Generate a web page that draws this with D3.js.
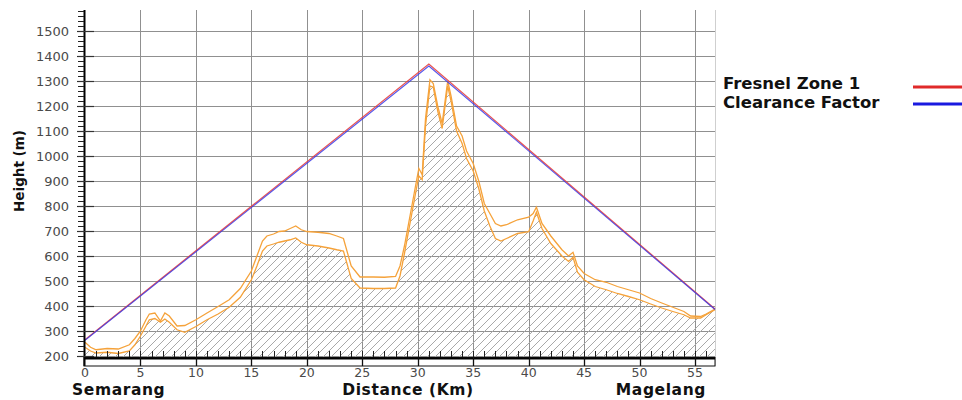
<!DOCTYPE html>
<html><head><meta charset="utf-8">
<script src="https://cdn.jsdelivr.net/npm/d3@7"></script>
<style>body{margin:0;background:#fff}svg{display:block}</style>
</head><body>
<svg id="c" width="962" height="400"></svg>
<script>
// ---- data ----
const distKm = [0,0.5,1,2,3,4,4.5,5,5.5,5.8,6.3,6.8,7.2,7.6,8.3,9,10,11,12,13,14,15,15.5,16,16.4,17,17.5,18,18.5,19,19.5,20,21,22,22.7,23.3,24,24.8,26,27,28,28.4,28.8,29.3,29.8,30.1,30.4,30.7,31.1,31.4,31.8,32.2,32.7,33.0,33.5,34,34.4,35,35.5,36,36.5,37,37.5,38,39,40,40.4,40.7,41.2,42,43,43.6,44,44.4,45,46,47,48,49,50,51,52,53,54,54.6,55.5,56,56.8];
const upperH = [255,235,225,230,228,245,270,300,345,368,372,340,372,360,320,322,345,372,398,425,470,540,600,660,680,688,698,700,710,720,705,698,695,690,680,670,560,516,516,515,518,560,640,760,880,950,925,1150,1305,1290,1200,1130,1300,1240,1120,1080,1020,970,900,810,770,730,720,725,745,755,770,795,730,680,625,600,615,560,530,505,495,478,465,452,430,412,395,378,360,358,368,388];
const lowerH = [235,220,212,215,210,220,245,280,320,345,350,335,348,335,305,295,318,345,368,395,435,505,560,620,640,648,655,660,665,672,655,645,640,632,625,620,510,472,470,470,472,520,610,730,850,920,905,1120,1280,1275,1180,1110,1280,1220,1100,1050,990,940,870,780,720,670,660,670,690,697,740,775,710,650,600,578,595,535,505,478,465,450,438,425,408,392,378,365,352,352,365,385];
const fresnelDist = [0,31,56.8];
const fresnelH = [265,1368,388];
const clearanceH = [263,1360,386];
const xTicks = [0,5,10,15,20,25,30,35,40,45,50,55];
const yTicks = [200,300,400,500,600,700,800,900,1000,1100,1200,1300,1400,1500];
const legendLabels = ["Fresnel Zone 1","Clearance Factor"];

// ---- scales ----
const svg = d3.select("#c");
const x = d3.scaleLinear().domain([0,56.8]).range([85,715]);
const y = d3.scaleLinear().domain([196,1584]).range([357,10]);
const X0 = x(0)-1, X1 = x(56.8), Y0 = y(196), Y1 = y(1584);

// hatch pattern
const defs = svg.append("defs");
const pat = defs.append("pattern").attr("id","hatch").attr("patternUnits","userSpaceOnUse")
  .attr("width",8).attr("height",8);
pat.append("path").attr("d","M-1,1 l2,-2 M0,8 l8,-8 M7,9 l2,-2").attr("stroke","#a9a9a9").attr("stroke-width",1);

// grid
const g = svg.append("g");
g.selectAll(".hg").data(yTicks).join("line")
  .attr("x1",X0).attr("x2",X1).attr("y1",d=>y(d)+0.5).attr("y2",d=>y(d)+0.5)
  .attr("stroke","#909090").attr("stroke-width",1);
g.selectAll(".vg").data(xTicks.slice(1)).join("line")
  .attr("x1",d=>Math.round(x(d))+0.5).attr("x2",d=>Math.round(x(d))+0.5).attr("y1",Y1).attr("y2",Y0)
  .attr("stroke","#909090").attr("stroke-width",1);
g.append("line").attr("x1",X1+0.5).attr("x2",X1+0.5).attr("y1",Y1).attr("y2",Y0+9)
  .attr("stroke","#cfcfcf");

// terrain
const pts = distKm.map((d,i)=>({d,u:upperH[i],l:lowerH[i]}));
svg.append("path").datum(pts)
  .attr("d",d3.area().x(p=>x(p.d)).y0(Y0).y1(p=>y(p.l)))
  .attr("fill","url(#hatch)");
svg.append("path").datum(pts)
  .attr("d",d3.line().x(p=>x(p.d)).y(p=>y(p.l)))
  .attr("fill","none").attr("stroke","#f5a23a").attr("stroke-width",1.3);
svg.append("path").datum(pts)
  .attr("d",d3.line().x(p=>x(p.d)).y(p=>y(p.u)))
  .attr("fill","none").attr("stroke","#f5a23a").attr("stroke-width",1.3);

// fresnel / clearance
const fl = d3.line().x(p=>x(p[0])).y(p=>y(p[1]));
svg.append("path").attr("d",fl(fresnelDist.map((d,i)=>[d,fresnelH[i]])))
  .attr("fill","none").attr("stroke","#e8413e").attr("stroke-width",1.3).attr("opacity",0.9);
svg.append("path").attr("d",fl(fresnelDist.map((d,i)=>[d,clearanceH[i]])))
  .attr("fill","none").attr("stroke","#3a3ae8").attr("stroke-width",1.1).attr("opacity",0.85);

// y axis
const ax = svg.append("g");
ax.append("line").attr("x1",X0+0.5).attr("x2",X0+0.5).attr("y1",Y1).attr("y2",Y0+9)
  .attr("stroke","#000").attr("stroke-width",2);
const minorY = d3.range(200,1584,20);
ax.selectAll(".my").data(minorY).join("line")
  .attr("x1",X0-6).attr("x2",X0).attr("y1",d=>y(d)+0.5).attr("y2",d=>y(d)+0.5)
  .attr("stroke","#222").attr("stroke-width",1);
ax.selectAll(".My").data(yTicks).join("line")
  .attr("x1",X0-7).attr("x2",X0+10).attr("y1",d=>y(d)+0.5).attr("y2",d=>y(d)+0.5)
  .attr("stroke","#333").attr("stroke-width",1.2);
ax.selectAll(".yl").data(yTicks).join("text")
  .attr("x",69).attr("y",d=>y(d)+4.5).attr("text-anchor","end")
  .attr("font-family","DejaVu Sans").attr("font-size",13).attr("fill","#4a4a4a")
  .text(d=>d);

// x axis band
const minorX = d3.range(1,57,1);
ax.selectAll(".mx").data(minorX).join("line")
  .attr("x1",d=>Math.round(x(d))+0.5).attr("x2",d=>Math.round(x(d))+0.5).attr("y1",Y0-6).attr("y2",Y0)
  .attr("stroke","#222").attr("stroke-width",1);
ax.append("rect").attr("x",X0).attr("y",Y0+0.5).attr("width",X1-X0).attr("height",8.5)
  .attr("fill","none").attr("stroke","#111").attr("stroke-width",1);
ax.append("line").attr("x1",X0).attr("x2",X1).attr("y1",Y0+1.5).attr("y2",Y0+1.5)
  .attr("stroke","#000").attr("stroke-width",2);
ax.selectAll(".bx").data(xTicks.slice(1)).join("line")
  .attr("x1",d=>Math.round(x(d))+0.5).attr("x2",d=>Math.round(x(d))+0.5).attr("y1",Y0).attr("y2",Y0+9)
  .attr("stroke","#111").attr("stroke-width",1.3);
ax.selectAll(".xl").data(xTicks).join("text")
  .attr("x",d=>x(d)).attr("y",376.5).attr("text-anchor","middle")
  .attr("font-family","DejaVu Sans").attr("font-size",12.5).attr("fill","#4a4a4a")
  .text(d=>d);

// titles
const bold = sel=>sel.attr("font-family","DejaVu Sans").attr("font-weight","bold").attr("fill","#111");
bold(svg.append("text").attr("x",72).attr("y",394.5).attr("font-size",15.5).attr("letter-spacing",0.6).text("Semarang"));
bold(svg.append("text").attr("x",408).attr("y",394.5).attr("text-anchor","middle").attr("font-size",15.5).attr("letter-spacing",0.6).text("Distance (Km)"));
bold(svg.append("text").attr("x",706).attr("y",394.5).attr("text-anchor","end").attr("font-size",15.5).attr("letter-spacing",0.6).text("Magelang"));
bold(svg.append("text").attr("transform","translate(24,171) rotate(-90)").attr("text-anchor","middle").attr("font-size",13.5).text("Height (m)"));

// legend
const legColors = ["#e02a2a","#1a1ae0"];
legendLabels.forEach((t,i)=>{
  bold(svg.append("text").attr("x",723).attr("y",89+i*19).attr("font-size",16.5).attr("fill","#1a1a1a").text(t));
  svg.append("line").attr("x1",913).attr("x2",962).attr("y1",87+i*17).attr("y2",87+i*17)
    .attr("stroke",legColors[i]).attr("stroke-width",3);
});
</script>
</body></html>
